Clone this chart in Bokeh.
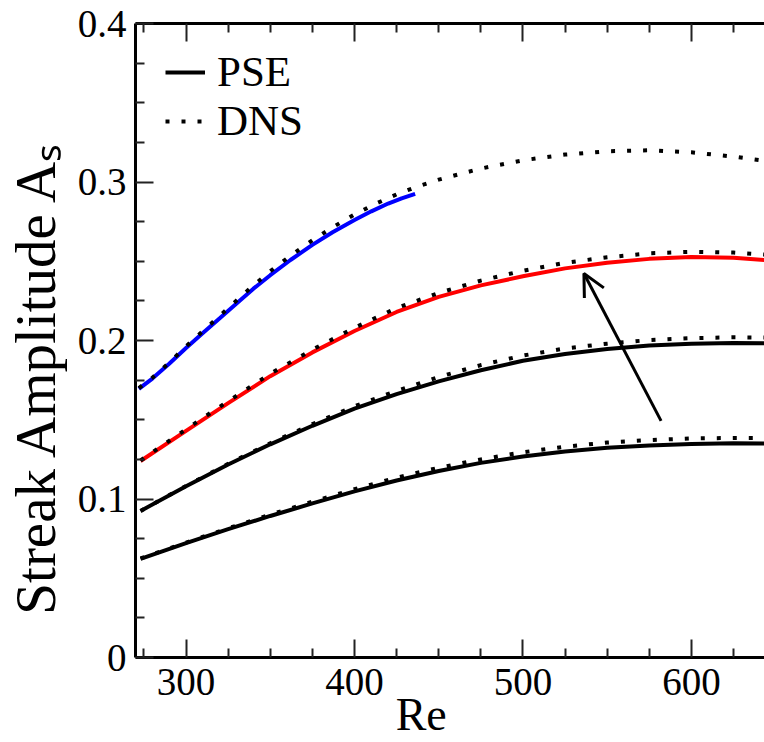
from bokeh.plotting import figure
from bokeh.models import (Range1d, FixedTicker, LinearAxis, Legend, LegendItem,
                          Arrow, OpenHead)
from bokeh.embed import file_html
from bokeh.resources import INLINE

# ---------------- data ----------------
re_grid = [273, 300, 325, 350, 375, 400, 425, 450, 475, 500, 525, 550, 575, 600, 625, 650]

pse_1 = [0.0622, 0.0722, 0.0810, 0.0893, 0.0972, 0.1048, 0.1117, 0.1177, 0.1228,
         0.1268, 0.1300, 0.1323, 0.1338, 0.1347, 0.1351, 0.1350]
dns_1 = [0.0625, 0.0725, 0.0815, 0.0902, 0.0983, 0.1062, 0.1135, 0.1197, 0.1250,
         0.1295, 0.1330, 0.1356, 0.1372, 0.1382, 0.1385, 0.1384]

pse_2 = [0.0925, 0.1080, 0.1218, 0.1345, 0.1462, 0.1570, 0.1662, 0.1742, 0.1812,
         0.1872, 0.1915, 0.1947, 0.1968, 0.1980, 0.1984, 0.1982]
dns_2 = [0.0925, 0.1082, 0.1222, 0.1352, 0.1472, 0.1585, 0.1682, 0.1770, 0.1845,
         0.1905, 0.1950, 0.1980, 0.2003, 0.2015, 0.2020, 0.2018]

pse_3 = [0.1240, 0.1430, 0.1605, 0.1775, 0.1925, 0.2060, 0.2180, 0.2275, 0.2348,
         0.2405, 0.2455, 0.2490, 0.2515, 0.2527, 0.2522, 0.2502]
dns_3 = [0.1243, 0.1440, 0.1617, 0.1790, 0.1942, 0.2080, 0.2205, 0.2300, 0.2378,
         0.2440, 0.2490, 0.2525, 0.2550, 0.2560, 0.2555, 0.2538]

re_blue = [272, 280, 290, 300, 310, 320, 331, 340, 350, 362, 375, 387, 400, 410,
           420, 428, 436]
pse_4 = [0.1695, 0.1760, 0.1853, 0.1953, 0.2047, 0.2140, 0.2243, 0.2327, 0.2412,
         0.2508, 0.2603, 0.2683, 0.2760, 0.2815, 0.2864, 0.2897, 0.2925]

re_blue_dns = [272, 280, 290, 300, 310, 320, 331, 340, 350, 362, 375, 387, 400, 412,
               425, 437, 450, 475, 500, 525, 550, 575, 600, 625, 650]
dns_4 = [0.1700, 0.1765, 0.1860, 0.1963, 0.2060, 0.2155, 0.2262, 0.2347, 0.2437,
         0.2535, 0.2632, 0.2714, 0.2795, 0.2860, 0.2922, 0.2970, 0.3015, 0.3085,
         0.3137, 0.3173, 0.3194, 0.3200, 0.3187, 0.3160, 0.3125]

x_major = [300, 400, 500, 600]
x_minor = [275, 325, 350, 375, 425, 450, 475, 525, 550, 575, 625]
y_major = [0, 0.1, 0.2, 0.3, 0.4]
y_minor = [0.025, 0.05, 0.075, 0.125, 0.15, 0.175, 0.225, 0.25, 0.275,
           0.325, 0.35, 0.375]

arrow_start = (582.0, 0.1493)
arrow_end = (536.2, 0.2423)

FONT = "'Liberation Serif'"
NB = "\u00a0"

# ---------------- figure ----------------
p = figure(width=764, height=742, output_backend="svg", toolbar_location=None,
           x_range=Range1d(270, 643.4), y_range=Range1d(0, 0.4),
           x_axis_label="Re" + NB * 5,
           y_axis_label="Streak Amplitude Aₛ" + NB * 5,
           min_border_left=133, min_border_top=23, min_border_bottom=80,
           min_border_right=0)
p.outline_line_color = None
p.grid.visible = False
p.background_fill_color = "white"
p.border_fill_color = "white"


def style_axis(ax, ticks, minors, labels=True):
    ax.ticker = FixedTicker(ticks=ticks, minor_ticks=minors)
    ax.axis_line_width = 3
    ax.axis_line_color = "black"
    ax.major_tick_in = 18
    ax.major_tick_out = 0
    ax.minor_tick_in = 9
    ax.minor_tick_out = 0
    ax.major_tick_line_width = 2
    ax.minor_tick_line_width = 2
    ax.major_tick_line_color = "#222222"
    ax.minor_tick_line_color = "#222222"
    ax.major_label_text_font = FONT
    ax.major_label_text_font_size = "39px"
    ax.major_label_text_color = "black"
    ax.axis_label_text_font = FONT
    ax.axis_label_text_font_style = "normal"
    ax.axis_label_text_color = "black"
    if not labels:
        ax.major_label_text_font_size = "0px"
        ax.major_label_text_color = None
        ax.major_label_standoff = 0


style_axis(p.xaxis[0], x_major, x_minor)
p.xaxis[0].major_label_standoff = 11
p.xaxis[0].axis_label_text_font_size = "46px"
p.xaxis[0].axis_label_standoff = -9

style_axis(p.yaxis[0], y_major, y_minor)
p.yaxis[0].major_label_overrides = {0: "0"}
p.yaxis[0].major_label_standoff = 9
p.yaxis[0].axis_label_text_font_size = "57px"
p.yaxis[0].axis_label_standoff = 8

top = LinearAxis()
style_axis(top, x_major, x_minor, labels=False)
p.add_layout(top, "above")

# ---------------- curves ----------------
SOLID_W = 4
DOT = dict(line_width=4, line_dash="4 12", line_cap="butt", line_color="black")

r1 = p.line(re_grid, pse_1, line_color="black", line_width=SOLID_W)
d1 = p.line(re_grid, dns_1, **DOT)
p.line(re_grid, pse_2, line_color="black", line_width=SOLID_W)
p.line(re_grid, dns_2, **DOT)
p.line(re_grid, pse_3, line_color="#ff0000", line_width=SOLID_W)
p.line(re_grid, dns_3, **DOT)
p.line(re_blue, pse_4, line_color="#0000ff", line_width=SOLID_W)
p.line(re_blue_dns, dns_4, **DOT)

p.add_layout(Arrow(end=OpenHead(size=22, line_width=3, line_color="black"),
                   x_start=arrow_start[0], y_start=arrow_start[1],
                   x_end=arrow_end[0], y_end=arrow_end[1],
                   line_width=3, line_color="black"))

LEG = dict(border_line_color=None, background_fill_alpha=0, label_text_font=FONT,
           label_text_color="black", label_text_font_size="43px",
           glyph_width=40, glyph_height=36, label_height=36, label_standoff=12,
           spacing=0, padding=0, margin=0)
leg_pse = Legend(items=[LegendItem(label="PSE", renderers=[r1])],
                 location=(30, 561), **LEG)
leg_dns = Legend(items=[LegendItem(label="DNS", renderers=[d1])],
                 location=(30, 512), **LEG)
p.add_layout(leg_pse)
p.add_layout(leg_dns)

open("out.html", "w").write(file_html(p, INLINE))
